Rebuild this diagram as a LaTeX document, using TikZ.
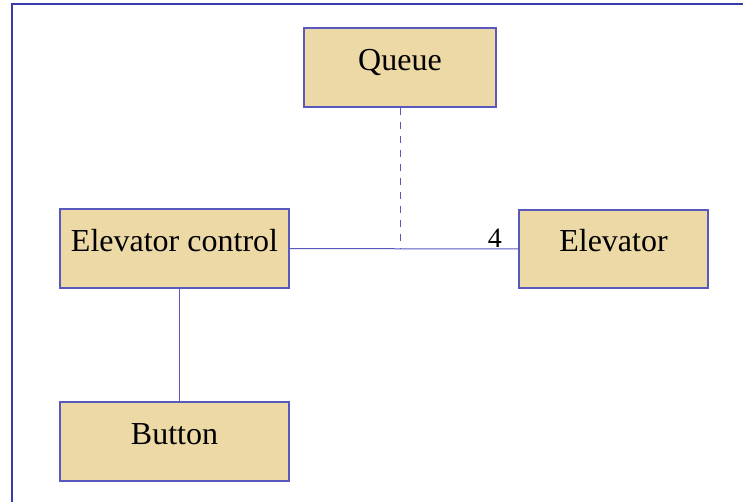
\documentclass[tikz,border=0pt]{standalone}
\usepackage{fontspec}
\setmainfont{Liberation Serif}
\definecolor{papyrus}{RGB}{236,217,166}
\definecolor{umlblue}{RGB}{88,88,190}
\definecolor{frameblue}{RGB}{58,58,168}
\tikzset{
  classbox/.style={rectangle, draw=umlblue, line width=1.4pt, fill=papyrus,
    inner sep=0pt, text height=22pt, text depth=16pt,
    font=\fontsize{32}{38}\selectfont},
  assoc/.style={draw=umlblue, line width=1pt}
}
\begin{document}
\begin{tikzpicture}[x=1pt,y=-1pt]
\useasboundingbox (0,0) rectangle (743,502);
\draw[frameblue, line width=2pt] (12,502) -- (12,4.5) -- (743,4.5);
\node[classbox, minimum width=192pt, minimum height=79pt] (queue) at (400,67.5){Queue};
\node[classbox, minimum width=229pt, minimum height=79pt] (ctrl) at (174.5,248.5){Elevator control};
\node[classbox, minimum width=189pt, minimum height=78pt] (elev) at (613.5,249){Elevator};
\node[classbox, minimum width=229pt, minimum height=79pt] (btn) at (174.5,441.5){Button};
\draw[assoc](ctrl) -- (elev) node[pos=1, anchor=south east, inner sep=1pt, xshift=-15pt, font=\fontsize{28}{32}\selectfont] (mult){4};
\draw[assoc, dash pattern=on 7pt off 7pt](queue.south) -- (queue.south |- ctrl.east);
\draw[assoc]([xshift=4.5pt]ctrl.south) -- ([xshift=4.5pt]btn.north);
\end{tikzpicture}
\end{document}
